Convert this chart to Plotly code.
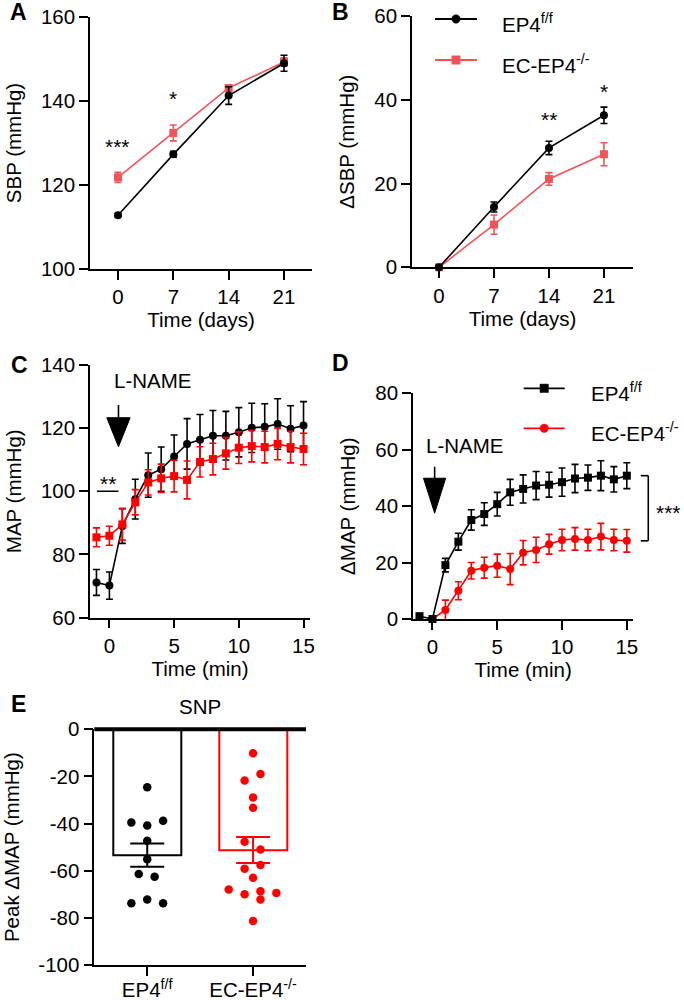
import plotly.graph_objects as go

W, H = 684, 1000
FONT = "Liberation Sans, Arial, sans-serif"
FS = 20.5
BLACK = "#000000"
RED_AB = "#F05459"
RED_CDE = "#FF0000"

# ---------------- data ----------------
# Panel A / B : SBP over days
days = [0, 7, 14, 21]
sbp_ctrl = [112.8, 127.3, 141.3, 149.0]
sbp_ctrl_sem = [0.4, 0.7, 2.1, 1.9]
sbp_ko = [121.8, 132.4, 143.1, 149.3]
sbp_ko_sem = [1.2, 1.9, 0.7, 1.0]

dsbp_ctrl = [0.0, 14.4, 28.5, 36.3]
dsbp_ctrl_sem = [0.3, 1.2, 1.6, 1.95]
dsbp_ko = [0.0, 10.2, 21.1, 27.0]
dsbp_ko_sem = [0.3, 2.3, 1.5, 2.75]

# Panel C / D : MAP after L-NAME
minutes = [-1, 0, 1, 2, 3, 4, 5, 6, 7, 8, 9, 10, 11, 12, 13, 14, 15]
map_ctrl = [71.1, 70.1, 89.0, 97.5, 105.1, 107.0, 111.0, 115.0, 116.3, 117.6,
            117.6, 118.7, 120.1, 120.4, 121.3, 119.8, 120.8]
map_ctrl_sem = [4.1, 4.3, 5.5, 6.3, 7.0, 7.0, 6.8, 8.0, 8.0, 8.0, 7.7, 7.8,
                7.8, 7.3, 8.0, 7.3, 7.6]
map_ko = [85.4, 85.9, 89.5, 96.5, 102.8, 104.1, 104.8, 103.6, 109.3, 110.2,
          112.0, 113.8, 114.3, 114.0, 115.0, 114.0, 113.4]
map_ko_sem = [3.0, 3.0, 5.0, 4.0, 4.0, 4.5, 5.0, 6.0, 4.8, 5.0, 5.0, 5.0,
              5.0, 5.0, 5.0, 5.0, 5.0]

dmap_ctrl = [1.0, 0.0, 19.1, 27.4, 35.1, 37.2, 40.7, 44.9, 46.1, 47.3, 47.6,
             48.5, 49.8, 50.1, 50.8, 49.5, 50.8]
dmap_ctrl_sem = [0.8, 0.5, 2.4, 3.0, 3.6, 4.0, 4.2, 4.6, 5.0, 5.0, 4.4, 5.0,
                 5.0, 4.5, 5.3, 4.5, 4.6]
dmap_ko = [-0.7, 0.0, 3.2, 10.0, 17.1, 18.2, 18.9, 17.7, 23.5, 24.5, 26.5,
           28.0, 28.4, 28.0, 29.2, 28.0, 27.7]
dmap_ko_sem = [0.5, 0.5, 3.5, 3.2, 2.9, 3.7, 4.1, 5.5, 4.3, 4.5, 3.5, 3.8,
               4.0, 3.8, 4.7, 3.8, 4.0]

# Panel E : SNP peak dMAP
groups = ["EP4<sup>f/f</sup>", "EC-EP4<sup>-/-</sup>"]
snp_means = [-53.4, -51.2]
snp_sems = [4.95, 5.5]
snp_ctrl_pts = [-24.6, -39.5, -40.8, -38.8, -47.3, -55.1, -61.4, -62.6,
                -73.8, -72.2, -73.8]
snp_ctrl_jit = [0, -0.15, 0, 0.15, 0, 0, -0.08, 0.07, -0.15, 0, 0.15]
snp_ko_pts = [-10.2, -21.7, -19.0, -28.9, -33.3, -47.7, -51.0, -59.2, -57.6,
              -63.0, -68.0, -70.0, -68.7, -69.4, -72.2, -81.3]
snp_ko_jit = [0, -0.08, 0.07, 0, 0, -0.08, 0.07, -0.08, 0.07, 0, -0.23,
              -0.08, 0.07, 0.22, 0.07, 0]

e_ticks = [0, -20, -40, -60, -80, -100]
e_ticktext = ["0", "-20", "-40", "-60", "-80", "-100"]

NAME_CTRL = "EP4<sup>f/f</sup>"
NAME_KO = "EC-EP4<sup>-/-</sup>"


# ---------------- helpers ----------------
def px_x(a, b):
    return [a / W, b / W]


def px_y(top, bottom):
    return [1 - bottom / H, 1 - top / H]


def series(x, y, err, color, symbol, name, xa, ya):
    return go.Scatter(
        x=x, y=y, mode="lines+markers", name=name,
        line=dict(color=color, width=1.6),
        marker=dict(color=color, symbol=symbol, size=8, line=dict(width=0)),
        error_y=dict(type="data", array=err, color=color, thickness=1.6,
                     width=3.5, visible=True),
        xaxis=xa, yaxis=ya, cliponaxis=False, hoverinfo="skip",
        showlegend=False)


def axis(domain, rng, tickvals, anchor, title=None, ticktext=None, standoff=None):
    d = dict(domain=domain, range=rng, tickvals=tickvals, anchor=anchor,
             showline=True, linecolor="black", linewidth=1.6,
             ticks="outside", ticklen=9, tickwidth=1.6, tickcolor="black",
             showgrid=False, zeroline=False, fixedrange=True, automargin=False,
             tickfont=dict(family=FONT, size=FS, color="black"))
    if ticktext is not None:
        d["ticktext"] = ticktext
    if title is not None:
        t = dict(text=title, font=dict(family=FONT, size=FS, color="black"))
        if standoff is not None:
            t["standoff"] = standoff
        d["title"] = t
    return d


fig = go.Figure()

# Panel A
fig.add_trace(series(days, sbp_ko, sbp_ko_sem, RED_AB, "square", NAME_KO, "x", "y"))
fig.add_trace(series(days, sbp_ctrl, sbp_ctrl_sem, BLACK, "circle", NAME_CTRL, "x", "y"))
# Panel B
fig.add_trace(series(days, dsbp_ko, dsbp_ko_sem, RED_AB, "square", NAME_KO, "x2", "y2"))
fig.add_trace(series(days, dsbp_ctrl, dsbp_ctrl_sem, BLACK, "circle", NAME_CTRL, "x2", "y2"))
# Panel C
fig.add_trace(series(minutes, map_ctrl, map_ctrl_sem, BLACK, "circle", NAME_CTRL, "x3", "y3"))
fig.add_trace(series(minutes, map_ko, map_ko_sem, RED_CDE, "square", NAME_KO, "x3", "y3"))
# Panel D
fig.add_trace(series(minutes, dmap_ko, dmap_ko_sem, RED_CDE, "circle", NAME_KO, "x4", "y4"))
fig.add_trace(series(minutes, dmap_ctrl, dmap_ctrl_sem, BLACK, "square", NAME_CTRL, "x4", "y4"))

# Panel E bars
for i, (m, s, c) in enumerate(zip(snp_means, snp_sems, [BLACK, RED_CDE])):
    fig.add_trace(go.Bar(
        x=[i], y=[m], width=0.645, xaxis="x5", yaxis="y5", showlegend=False,
        marker=dict(color="rgba(255,255,255,0)", line=dict(color=c, width=2)),
        error_y=dict(type="data", array=[s], color=c, thickness=2, width=17),
        hoverinfo="skip"))
fig.add_trace(go.Scatter(
    x=[0 + j for j in snp_ctrl_jit], y=snp_ctrl_pts, mode="markers",
    marker=dict(color=BLACK, size=8.5), xaxis="x5", yaxis="y5",
    showlegend=False, cliponaxis=False, hoverinfo="skip"))
fig.add_trace(go.Scatter(
    x=[1 + j for j in snp_ko_jit], y=snp_ko_pts, mode="markers",
    marker=dict(color=RED_CDE, size=8.5), xaxis="x5", yaxis="y5",
    showlegend=False, cliponaxis=False, hoverinfo="skip"))

# ---------------- shapes ----------------
shapes = []
# C: L-NAME arrow
shapes.append(dict(type="line", xref="x3", yref="y3", x0=0.7, x1=0.7, y0=127.3, y1=123.0,
                   line=dict(color="black", width=1.6)))
shapes.append(dict(type="path", xref="x3", yref="y3",
                   path="M -0.2,123.3 L 1.6,123.3 L 0.7,114.1 Z",
                   fillcolor="black", line=dict(color="black", width=1)))
# C: ** underline
shapes.append(dict(type="line", xref="x3", yref="y3", x0=-0.97, x1=0.7, y0=100, y1=100,
                   line=dict(color="black", width=1.6)))
# D: L-NAME arrow
shapes.append(dict(type="line", xref="x4", yref="y4", x0=0.17, x1=0.17, y0=54.0, y1=49.5,
                   line=dict(color="black", width=1.6)))
shapes.append(dict(type="path", xref="x4", yref="y4",
                   path="M -0.69,49.9 L 1.02,49.9 L 0.17,37.5 Z",
                   fillcolor="black", line=dict(color="black", width=1)))
# D: bracket
D_YMAX = 80.0
bx, bt = 1.068, 1.034
for y0, y1, xa, xb in [(50.8, 27.7, bx, bx), (50.8, 50.8, bt, bx), (27.7, 27.7, bt, bx)]:
    shapes.append(dict(type="line", xref="x4 domain", yref="y4 domain",
                       x0=xa, x1=xb, y0=y0 / D_YMAX, y1=y1 / D_YMAX,
                       line=dict(color="black", width=1.6)))
# E: thick zero line
shapes.append(dict(type="line", xref="x5 domain", yref="y5 domain", x0=0, x1=1, y0=1, y1=1,
                   line=dict(color="black", width=4)))

# ---------------- annotations ----------------
ann = []


def text(x, y, s, xref, yref, size=FS, bold=False, xanchor="center", yanchor="middle"):
    ann.append(dict(x=x, y=y, text=("<b>%s</b>" % s) if bold else s, xref=xref, yref=yref,
                    showarrow=False, xanchor=xanchor, yanchor=yanchor,
                    font=dict(family=FONT, size=size, color="black")))


# custom legends (line + marker sample + label), positioned in pixels
def legend_entry(lx0, lx1, ly, color, symbol, tx, ty, label):
    shapes.append(dict(type="line", xref="paper", yref="paper",
                       x0=lx0 / W, x1=lx1 / W, y0=1 - ly / H, y1=1 - ly / H,
                       line=dict(color=color, width=1.8)))
    cx, r = (lx0 + lx1) / 2, 4.2
    shapes.append(dict(type="circle" if symbol == "circle" else "rect",
                       xref="paper", yref="paper",
                       x0=(cx - r) / W, x1=(cx + r) / W,
                       y0=1 - (ly + r) / H, y1=1 - (ly - r) / H,
                       fillcolor=color, line=dict(color=color, width=0.5)))
    text(tx / W, 1 - ty / H, label, "paper", "paper", xanchor="left")


legend_entry(435, 477, 19, BLACK, "circle", 500, 23, NAME_CTRL)
legend_entry(435, 477, 60, RED_AB, "square", 500, 63.5, NAME_KO)
legend_entry(523.7, 564.7, 388.3, BLACK, "square", 589, 392, NAME_CTRL)
legend_entry(523.7, 564.7, 428.3, RED_CDE, "circle", 589, 432, NAME_KO)

for lab, px, py in [("A", 18, 12), ("B", 340, 12), ("C", 19.5, 365), ("D", 340, 363), ("E", 18, 704)]:
    text(px / W, 1 - py / H, lab, "paper", "paper", size=23, bold=True)

text(0, 129.1, "***", "x", "y", size=21)
text(7, 140.5, "*", "x", "y", size=21)
text(14, 35.4, "**", "x2", "y2", size=21)
text(21, 41.9, "*", "x2", "y2", size=21)
text(-0.14, 102.5, "**", "x3", "y3", size=21)
text(683 / W, 37.8, "***", "paper", "y4", size=21, xanchor="right")
text(3.36, 135.2, "L-NAME", "x3", "y3")
text(2.5, 61.5, "L-NAME", "x4", "y4")
text(200 / W, 1 - 706.7 / H, "SNP", "paper", "paper")

SO = 14
xaxis5 = axis(px_x(94.3, 306), [-0.5, 1.5], [0, 1], "y5", ticktext=groups)
xaxis5["ticklabelstandoff"] = -3

fig.update_layout(
    width=W, height=H, margin=dict(l=0, r=0, t=0, b=0, autoexpand=False),
    paper_bgcolor="white", plot_bgcolor="rgba(0,0,0,0)",
    font=dict(family=FONT, size=FS, color="black"), showlegend=False,
    xaxis=axis(px_x(90, 312), [-3.54, 24.54], days, "y", "Time (days)", standoff=2),
    yaxis=axis(px_y(17, 269), [100, 160], [100, 120, 140, 160], "x", "SBP (mmHg)", standoff=SO),
    xaxis2=axis(px_x(412, 633), [-3.44, 24.7], days, "y2", "Time (days)", standoff=2),
    yaxis2=axis(px_y(16, 267.3), [0, 60], [0, 20, 40, 60], "x2", "ΔSBP (mmHg)", standoff=SO),
    xaxis3=axis(px_x(90, 310), [-1.5, 15.5], [0, 5, 10, 15], "y3", "Time (min)", standoff=2),
    yaxis3=axis(px_y(365, 617.5), [60, 140], [60, 80, 100, 120, 140], "x3", "MAP (mmHg)", standoff=SO),
    xaxis4=axis(px_x(413, 633.3), [-1.5, 15.5], [0, 5, 10, 15], "y4", "Time (min)", standoff=2),
    yaxis4=axis(px_y(393.3, 619), [0, 80], [0, 20, 40, 60, 80], "x4", "ΔMAP (mmHg)", standoff=SO),
    xaxis5=xaxis5,
    yaxis5=axis(px_y(729.3, 965), [-100, 0], e_ticks, "x5", "Peak ΔMAP (mmHg)",
                ticktext=e_ticktext, standoff=SO),
    shapes=shapes, annotations=ann, bargap=0,
)

fig.write_html("out.html", config={"displayModeBar": False},
               post_script="document.body.style.margin='0px';")
